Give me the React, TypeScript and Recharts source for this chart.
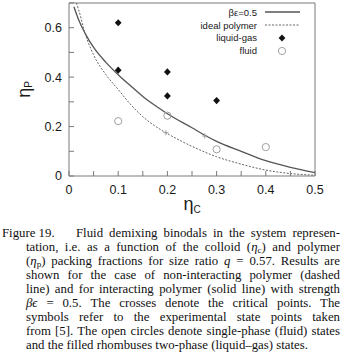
import { ComposedChart, Line, Scatter, XAxis, YAxis, Legend } from 'recharts'

// binodal, interacting polymer (beta eps = 0.5)
const etaCSolid = [0.01, 0.02, 0.0325, 0.05, 0.075, 0.1, 0.125, 0.15, 0.175, 0.2, 0.25, 0.276, 0.3, 0.35, 0.4, 0.45, 0.5]
const etaPSolid = [0.685, 0.63, 0.578, 0.52, 0.46, 0.41, 0.365, 0.322, 0.285, 0.252, 0.195, 0.165, 0.14, 0.1, 0.062, 0.035, 0.014]

// binodal, ideal polymer
const etaCIdeal = [0.015, 0.02, 0.0325, 0.05, 0.075, 0.1, 0.125, 0.15, 0.175, 0.197, 0.25, 0.3, 0.35, 0.4, 0.45, 0.5]
const etaPIdeal = [0.7, 0.67, 0.578, 0.49, 0.41, 0.35, 0.29, 0.24, 0.202, 0.175, 0.12, 0.078, 0.048, 0.024, 0.01, 0.003]

const liquidGasC = [0.1, 0.1, 0.2, 0.2, 0.3]
const liquidGasP = [0.62, 0.428, 0.421, 0.324, 0.305]

const fluidC = [0.1, 0.2, 0.3, 0.4]
const fluidP = [0.222, 0.244, 0.108, 0.117]

const criticalC = [0.197, 0.276]
const criticalP = [0.175, 0.162]

const xTicks = [0, 0.05, 0.1, 0.15, 0.2, 0.25, 0.3, 0.35, 0.4, 0.45, 0.5]
const yTicks = [0, 0.1, 0.2, 0.3, 0.4, 0.5, 0.6, 0.7]

const zip = (xs: number[], ys: number[]) => xs.map((x, i) => ({ x, y: ys[i] }))

const solidData = zip(etaCSolid, etaPSolid)
const idealData = zip(etaCIdeal, etaPIdeal)
const liquidGasData = zip(liquidGasC, liquidGasP)
const fluidData = zip(fluidC, fluidP)
const criticalData = zip(criticalC, criticalP)

const SANS = '"Liberation Sans", Arial, sans-serif'
const SERIF = '"Liberation Serif", "Times New Roman", serif'
const FRAME = '#7a7a7a'

const Diamond = (p: any) => (
    <path
        d={`M${p.cx},${p.cy - 3.6}L${p.cx + 3.4},${p.cy}L${p.cx},${p.cy + 3.6}L${p.cx - 3.4},${p.cy}Z`}
        fill="#111"
    />
)

const OpenCircle = (p: any) => (
    <circle cx={p.cx} cy={p.cy} r={3.6} fill="none" stroke="#a0a0a0" strokeWidth={1} />
)

const Cross = (p: any) => (
    <path
        d={`M${p.cx - 2.5},${p.cy}H${p.cx + 2.5}M${p.cx},${p.cy - 2.5}V${p.cy + 2.5}`}
        stroke="#999"
        strokeWidth={1}
    />
)

const xFmt = (v: number) => (Math.round(v * 100) % 10 === 0 ? String(v) : '')
const yFmt = (v: number) => (Math.round(v * 10) % 2 === 0 && v < 0.65 ? String(v) : '')

const tickStyle = { fontSize: 12.5, fontFamily: SANS, fill: '#1a1a1a' }

const YLabel = (props: any) => {
    const vb = props.viewBox
    const cx = 24
    const cy = vb.y + vb.height / 2
    return (
        <text
            x={cx}
            y={cy}
            transform={`rotate(-90, ${cx}, ${cy})`}
            textAnchor="middle"
            dominantBaseline="central"
            fontFamily={SANS}
            fontSize={18}
            fill="#1a1a1a"
        >
            η<tspan fontSize={10} dy={4}>P</tspan>
        </text>
    )
}

const XLabel = (props: any) => {
    const vb = props.viewBox
    const cx = vb.x + vb.width / 2
    return (
        <text x={cx} y={210} textAnchor="middle" fontFamily={SANS} fontSize={18} fill="#1a1a1a">
            η<tspan fontSize={10} dy={3}>C</tspan>
        </text>
    )
}

const legendRows = [
    { name: 'βε=0.5', kind: 'solid' },
    { name: 'ideal polymer', kind: 'dashed' },
    { name: 'liquid-gas', kind: 'diamond' },
    { name: 'fluid', kind: 'circle' },
]

const LegendBox = () => (
    <div style={{ fontFamily: SANS, fontSize: 9.5, color: '#1a1a1a' }}>
        {legendRows.map((r) => (
            <div key={r.name} style={{ display: 'flex', alignItems: 'center', height: 12.8 }}>
                <div style={{ width: 77, textAlign: 'right', whiteSpace: 'nowrap' }}>{r.name}</div>
                <svg width={44} height={12} style={{ display: 'block' }}>
                    {r.kind === 'solid' && <line x1={8} x2={43} y1={6} y2={6} stroke="#555" strokeWidth={1.3} />}
                    {r.kind === 'dashed' && (
                        <line x1={8} x2={43} y1={6} y2={6} stroke="#666" strokeWidth={1} strokeDasharray="2 1.5" />
                    )}
                    {r.kind === 'diamond' && <Diamond cx={25} cy={6} />}
                    {r.kind === 'circle' && <OpenCircle cx={25} cy={6} />}
                </svg>
            </div>
        ))}
    </div>
)

const Chart = () => (
    <ComposedChart width={343} height={216} margin={{ top: 2, right: 27, left: 0, bottom: 0 }}>
        <XAxis
            dataKey="x"
            type="number"
            domain={[0, 0.5]}
            ticks={xTicks}
            tickFormatter={xFmt}
            interval={0}
            height={40}
            tickSize={-5}
            tickMargin={14}
            stroke={FRAME}
            tick={tickStyle}
            label={{ content: XLabel }}
        />
        <XAxis
            xAxisId="top"
            orientation="top"
            dataKey="x"
            type="number"
            domain={[0, 0.5]}
            ticks={xTicks}
            tickFormatter={() => ''}
            interval={0}
            height={1}
            tickSize={-5}
            stroke={FRAME}
        />
        <YAxis
            dataKey="y"
            type="number"
            domain={[0, 0.7]}
            ticks={yTicks}
            tickFormatter={yFmt}
            interval={0}
            width={69}
            tickSize={-5}
            tickMargin={12}
            stroke={FRAME}
            tick={tickStyle}
            allowDataOverflow
            label={{ content: YLabel }}
        />
        <YAxis
            yAxisId="right"
            orientation="right"
            dataKey="y"
            type="number"
            domain={[0, 0.7]}
            ticks={yTicks}
            tickFormatter={() => ''}
            interval={0}
            width={1}
            tickSize={-5}
            stroke={FRAME}
        />
        <Legend
            layout="vertical"
            verticalAlign="middle"
            align="center"
            content={<LegendBox />}
            wrapperStyle={{ top: 6, left: 180, width: 125 }}
        />
        <Line
            data={solidData}
            dataKey="y"
            type="monotone"
            stroke="#555"
            strokeWidth={1.3}
            dot={false}
            isAnimationActive={false}
            legendType="none"
        />
        <Line
            data={idealData}
            dataKey="y"
            type="monotone"
            stroke="#666"
            strokeWidth={1}
            strokeDasharray="2 1.5"
            dot={false}
            isAnimationActive={false}
            legendType="none"
        />
        <Scatter data={criticalData} dataKey="y" shape={Cross} isAnimationActive={false} legendType="none" />
        <Scatter data={liquidGasData} dataKey="y" shape={Diamond} isAnimationActive={false} legendType="none" />
        <Scatter data={fluidData} dataKey="y" shape={OpenCircle} isAnimationActive={false} legendType="none" />
    </ComposedChart>
)

const Sub = ({ children }: { children: string }) => (
    <span style={{ fontSize: '0.72em', position: 'relative', top: '0.25em' }}>{children}</span>
)

const captionLines = [
    <>tation, i.e. as a function of the colloid (<i>η</i><Sub>c</Sub>) and polymer</>,
    <>(<i>η</i><Sub>p</Sub>) packing fractions for size ratio <i>q</i> = 0.57. Results are</>,
    <>shown for the case of non-interacting polymer (dashed</>,
    <>line) and for interacting polymer (solid line) with strength</>,
    <><i>βϵ</i> = 0.5. The crosses denote the critical points. The</>,
    <>symbols refer to the experimental state points taken</>,
    <>from [5]. The open circles denote single-phase (fluid) states</>,
    <>and the filled rhombuses two-phase (liquid–gas) states.</>,
]

const lineStyle = (top: number, left: number, width: number, justify: boolean): React.CSSProperties => ({
    position: 'absolute',
    top,
    left,
    width,
    height: 14,
    lineHeight: '14px',
    whiteSpace: 'nowrap',
    textAlign: justify ? 'justify' : 'left',
    textAlignLast: justify ? 'justify' : 'left',
})

const Caption = () => (
    <div style={{ fontFamily: SERIF, fontSize: 12.8, color: '#111' }}>
        <div style={lineStyle(226, 2, 60, false)}>Figure 19.</div>
        <div style={lineStyle(226, 76, 264, true)}>Fluid demixing binodals in the system represen-</div>
        {captionLines.map((l, i) => (
            <div key={i} style={lineStyle(240 + i * 14, 26, 314, i < captionLines.length - 1)}>
                {l}
            </div>
        ))}
    </div>
)

export default function App() {
    return (
        <div style={{ position: 'absolute', left: 0, top: 0, width: 343, height: 355, background: '#fff' }}>
            <Chart />
            <Caption />
        </div>
    )
}
